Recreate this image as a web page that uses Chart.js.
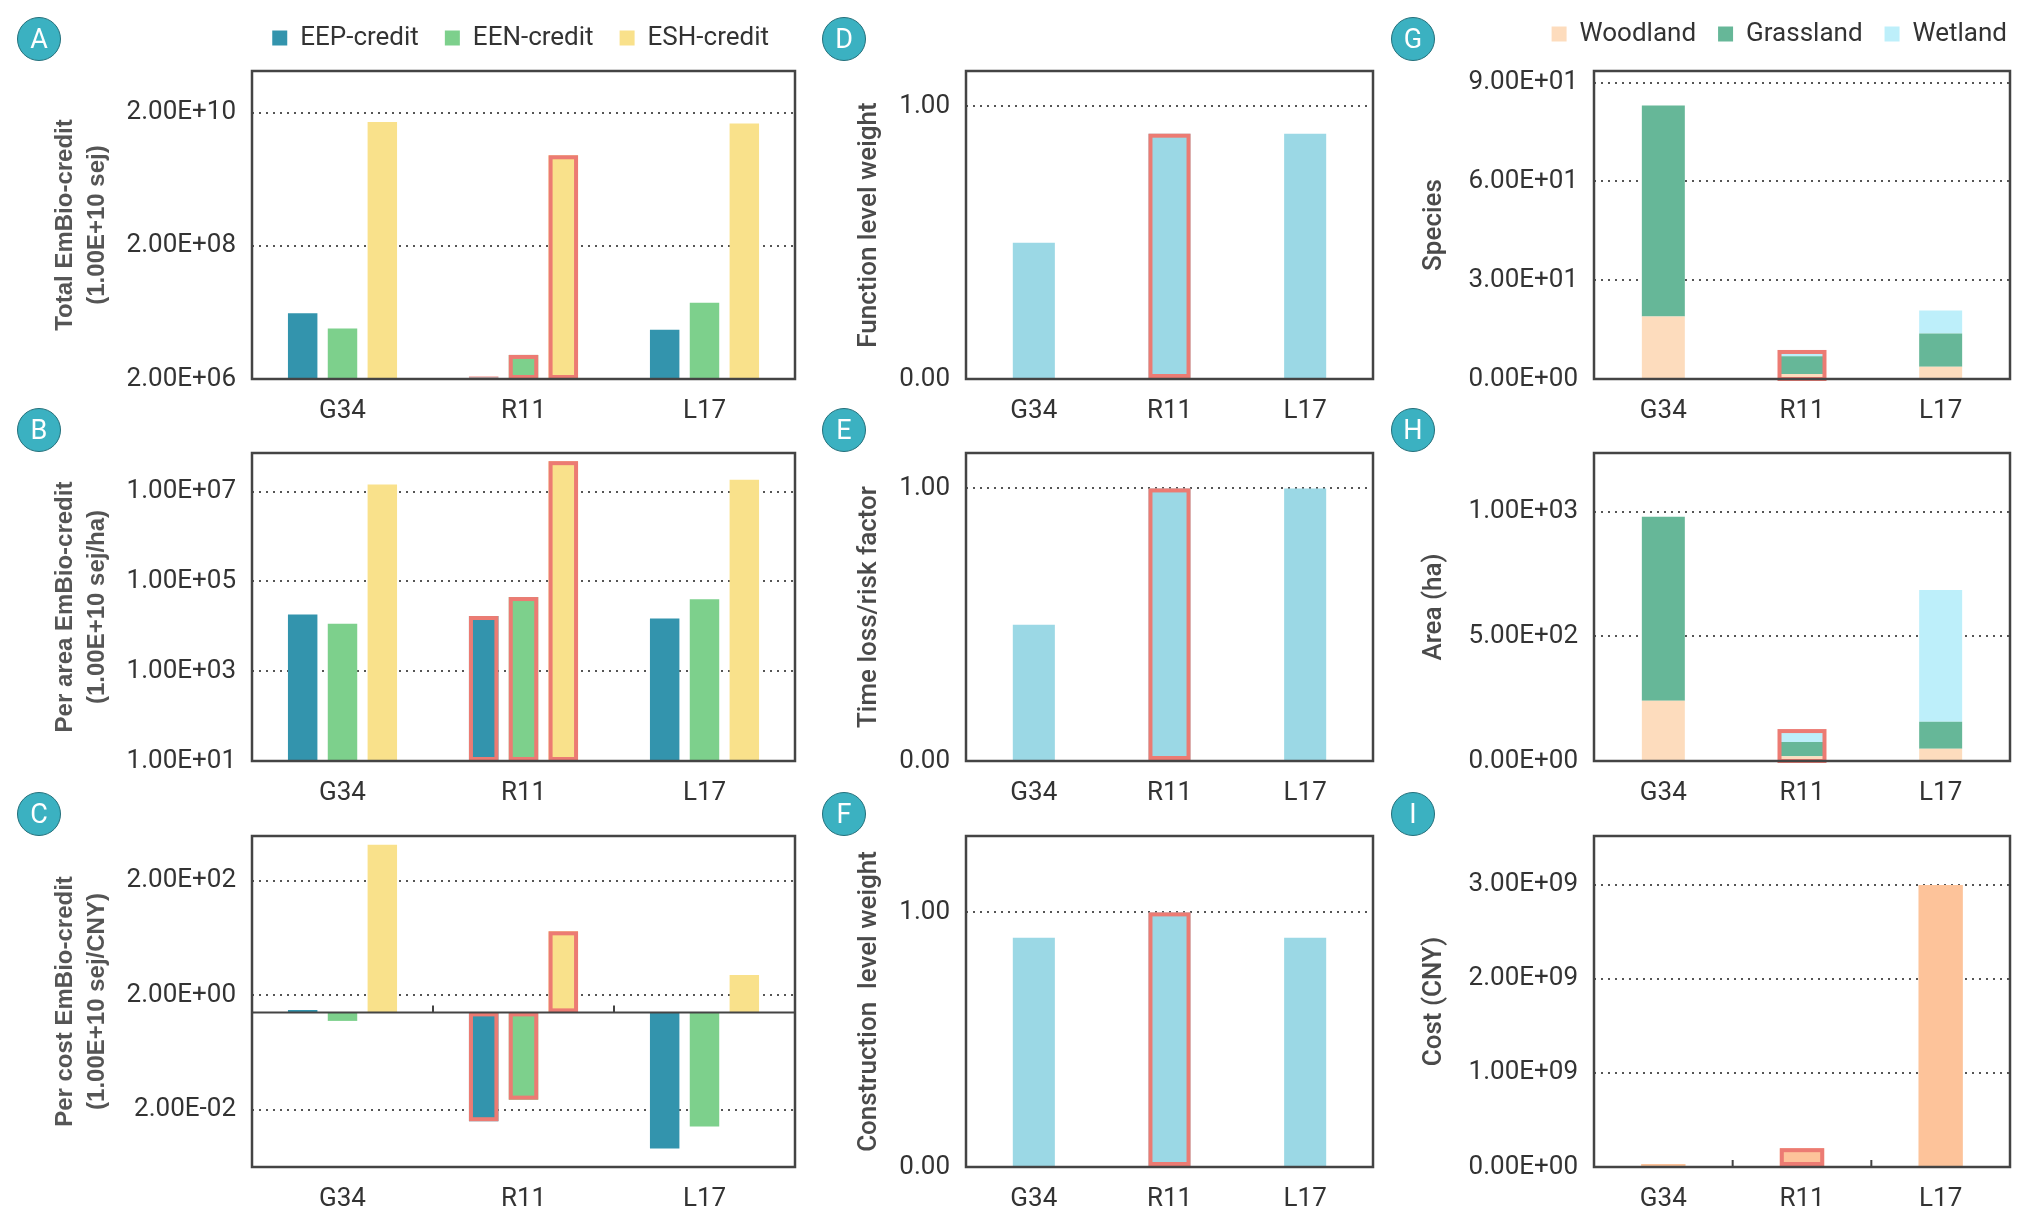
<!DOCTYPE html>
<html>
<head>
<meta charset="utf-8">
<script src="https://cdn.jsdelivr.net/npm/chart.js@4.4.0/dist/chart.umd.min.js"></script>
<style>
  html, body { margin: 0; padding: 0; background: #fff; }
  #page { position: relative; width: 2027px; height: 1220px; overflow: hidden; background: #fff; }
  .cv { position: absolute; }
  .badge {
    position: absolute; width: 42px; height: 42px; border-radius: 50%;
    background: #3bb1c1; border: 1.5px solid #24707b; color: #fff;
    font: 400 27px Roboto, sans-serif; display: flex; align-items: center; justify-content: center;
  }
</style>
</head>
<body>
<div id="page"></div>
<script>
// ---- data ----
const regions = ['G34', 'R11', 'L17'];
const creditNames = ['EEP-credit', 'EEN-credit', 'ESH-credit'];
const landNames = ['Woodland', 'Grassland', 'Wetland'];

// A: total EmBio-credit (1.00E+10 sej), log axis
const totalEEP = [1.95e7, 2.1e6, 1.1e7];
const totalEEN = [1.15e7, 4.6e6, 2.8e7];
const totalESH = [1.45e10, 4.6e9, 1.38e10];
const totalTicks = [2e6, 2e8, 2e10];

// B: per area EmBio-credit (1.00E+10 sej/ha), log axis
const areaEEP = [1.85e4, 1.7e4, 1.5e4];
const areaEEN = [1.15e4, 4.5e4, 4.0e4];
const areaESH = [1.45e7, 4.8e7, 1.85e7];
const areaCreditTicks = [1e1, 1e3, 1e5, 1e7];

// C: per cost EmBio-credit (1.00E+10 sej/CNY), log axis, bars start at 1
const perCostBase = 1;
const costEEP = [1.1, 0.0126, 0.0042];
const costEEN = [0.71, 0.03, 0.0102];
const costESH = [840, 26, 4.5];
const costCreditTicks = [2e-2, 2e0, 2e2];

// D, E, F
const functionWeight = [0.5, 0.9, 0.9];
const timeRiskFactor = [0.5, 1.0, 1.0];
const constructionWeight = [0.9, 1.0, 0.9];
const weightTicks = [0, 1];

// G: species by land type
const speciesWoodland = [19, 1.5, 3.7];
const speciesGrassland = [64, 5.4, 10.1];
const speciesWetland = [0, 1.0, 7.0];
const speciesTicks = [0, 30, 60, 90];

// H: area (ha) by land type
const areaWoodland = [242, 19, 49];
const areaGrassland = [737, 57, 108];
const areaWetland = [0, 40, 529];
const areaTicks = [0, 500, 1000];

// I: cost (CNY)
const projectCost = [3.2e7, 2.0e8, 3.0e9];
const costTicks = [0, 1e9, 2e9, 3e9];

const highlightIndex = 1; // R11

// ---- style ----
const C_EEP = '#3394ad', C_EEN = '#7dd08c', C_ESH = '#f9e18b';
const C_WEIGHT = '#9bd8e5';
const C_WOOD = '#fddcbd', C_GRASS = '#66b798', C_WET = '#bdeffa';
const C_COST = '#fdc39a';
const C_HL = '#ec7b73';

Chart.defaults.font.family = 'Roboto';
Chart.defaults.color = '#333';

const page = document.getElementById('page');

const cols = [
  { left: 49, boxLeft: 252, boxRight: 795, right: 800 },
  { left: 854, boxLeft: 966, boxRight: 1373, right: 1378 },
  { left: 1419, boxLeft: 1594, boxRight: 2010, right: 2027 }
];
const rows = [
  { boxTop: 71, boxBottom: 379 },
  { boxTop: 453, boxBottom: 761 },
  { boxTop: 836, boxBottom: 1167 }
];

function fmtE(v) {
  if (v === 0) return '0.00E+00';
  let e = Math.floor(Math.log10(Math.abs(v)) + 1e-9);
  const m = v / Math.pow(10, e);
  return m.toFixed(2) + 'E' + (e < 0 ? '-' : '+') + String(Math.abs(e)).padStart(2, '0');
}
function fmtF(v) { return Number(v).toFixed(2); }

// frame, highlight outlines and inner ticks
const framePlugin = {
  id: 'frame',
  beforeLayout(chart, args, o) {
    const lg = chart.legend;
    if (o.legendExtra && lg && !lg._patched) {
      const fit = lg.fit, draw = lg.draw;
      lg.fit = function () { fit.call(this); this.height += o.legendExtra; };
      lg.draw = function () {
        const c = this.ctx;
        c.save(); c.translate(o.legendShift || 0, 0);
        draw.call(this);
        c.restore();
      };
      lg._patched = true;
    }
  },
  afterDatasetsDraw(chart, args, o) {
    const { ctx, chartArea: a } = chart;
    const xs = chart.scales.x, ys = chart.scales.y;
    ctx.save();
    // highlight outlines
    if (o.highlight !== undefined) {
      const rects = [];
      chart.data.datasets.forEach((ds, di) => {
        const el = chart.getDatasetMeta(di).data[o.highlight];
        if (!el) return;
        const p = el.getProps(['x', 'y', 'base', 'width'], true);
        rects.push({ l: p.x - p.width / 2, r: p.x + p.width / 2,
                     t: Math.min(p.y, p.base), b: Math.max(p.y, p.base) });
      });
      ctx.strokeStyle = C_HL;
      ctx.lineWidth = 4;
      if (o.stacked) {
        const u = rects.reduce((m, r) => ({ l: Math.min(m.l, r.l), r: Math.max(m.r, r.r),
          t: Math.min(m.t, r.t), b: Math.max(m.b, r.b) }));
        ctx.strokeRect(u.l - 1, u.t - 1, u.r - u.l + 2, u.b - u.t + 2);
      } else {
        rects.forEach(r => {
          const h = r.b - r.t;
          if (h < 4) {
            ctx.save();
            ctx.globalAlpha = 0.45; ctx.lineWidth = 2;
            ctx.beginPath(); ctx.moveTo(r.l, r.b - 2); ctx.lineTo(r.r, r.b - 2); ctx.stroke();
            ctx.restore();
          } else {
            ctx.strokeRect(r.l + 2, r.t + 2, r.r - r.l - 4, h - 4);
          }
        });
      }
    }
    ctx.strokeStyle = '#444';
    // baseline with tick marks between categories
    if (o.baseline !== undefined || o.bottomTicks) {
      const y = o.baseline !== undefined ? ys.getPixelForValue(o.baseline) : a.bottom;
      ctx.lineWidth = 2;
      ctx.beginPath();
      ctx.moveTo(a.left, y); ctx.lineTo(a.right, y);
      for (let i = 0; i < xs.ticks.length - 1; i++) {
        const x = (xs.getPixelForTick(i) + xs.getPixelForTick(i + 1)) / 2;
        ctx.moveTo(x, y); ctx.lineTo(x, y - 7);
      }
      ctx.stroke();
    }
    ctx.lineWidth = 2.5;
    ctx.strokeRect(a.left, a.top, a.right - a.left, a.bottom - a.top);
    ctx.restore();
  }
};

function makePanel(p) {
  const col = cols[p.col], row = rows[p.row];
  const top = p.legend ? -10 : row.boxTop - 50;
  const w = col.right - col.left, h = row.boxBottom + 50 - top;
  const cv = document.createElement('canvas');
  cv.className = 'cv';
  cv.width = w; cv.height = h;
  cv.style.left = col.left + 'px'; cv.style.top = top + 'px';
  cv.style.width = w + 'px'; cv.style.height = h + 'px';
  page.appendChild(cv);

  const padTop = p.legend ? 9 : row.boxTop - top;
  const legendPad = p.legendPad || 26;
  const legendExtra = p.legend ? row.boxTop - top - padTop - (26 + legendPad + 10) : 0;

  const datasets = p.datasets.map(d => Object.assign({
    borderWidth: 0,
    categoryPercentage: p.cp,
    barPercentage: p.bp
  }, d));

  new Chart(cv, {
    type: 'bar',
    data: { labels: regions, datasets: datasets },
    options: {
      responsive: false,
      animation: false,
      events: [],
      layout: { padding: { top: padTop, right: col.right - col.boxRight, left: 0, bottom: 0 } },
      plugins: {
        tooltip: { enabled: false },
        legend: {
          display: !!p.legend,
          position: 'top',
          align: 'end',
          labels: { boxWidth: 15, boxHeight: 15, padding: legendPad, color: '#333', font: { size: 26 } }
        },
        frame: {
          highlight: highlightIndex,
          stacked: !!p.stacked,
          baseline: p.baseline,
          bottomTicks: !!p.bottomTicks,
          legendExtra: legendExtra,
          legendShift: p.legendShift || 0
        }
      },
      scales: {
        x: {
          stacked: !!p.stacked,
          grid: { display: false },
          border: { display: false },
          ticks: { color: '#333', font: { size: 26 }, padding: 9 },
          afterFit: s => { s.height = 50; }
        },
        y: {
          type: p.type || 'linear',
          stacked: !!p.stacked,
          min: p.min,
          max: p.max,
          grid: { color: '#555', lineWidth: 2, drawTicks: false },
          border: { display: false, dash: [2, 5] },
          ticks: { color: '#333', font: { size: 26 }, padding: 16, callback: v => p.fmt(v) },
          afterBuildTicks: s => { s.ticks = p.ticks.map(v => ({ value: v })); },
          afterFit: s => { s.width = col.boxLeft - col.left; },
          title: {
            display: true,
            text: p.title,
            color: p.titleColor || '#4a4a4a',
            padding: 0,
            font: p.titleFont
          }
        }
      }
    },
    plugins: [framePlugin]
  });
}

const fontArial = { family: 'Liberation Sans', weight: 'bold', size: 24, lineHeight: 1.35 };
const fontRoboto = { family: 'Roboto', weight: '500', size: 26, lineHeight: 1.2 };
const bar3 = { cp: 0.66, bp: 0.74 };
const bar1 = { cp: 1, bp: 0.31 };

// A
makePanel(Object.assign({
  col: 0, row: 0, legend: true, type: 'logarithmic', min: 2e6, max: 8.5e10,
  ticks: totalTicks, fmt: fmtE, titleFont: fontArial, titleColor: '#555',
  title: ['Total EmBio-credit', '(1.00E+10 sej)'],
  datasets: [
    { label: creditNames[0], data: totalEEP, backgroundColor: C_EEP },
    { label: creditNames[1], data: totalEEN, backgroundColor: C_EEN },
    { label: creditNames[2], data: totalESH, backgroundColor: C_ESH }
  ]
}, bar3));

// B
makePanel(Object.assign({
  col: 0, row: 1, type: 'logarithmic', min: 10, max: 7.3e7,
  ticks: areaCreditTicks, fmt: fmtE, titleFont: fontArial, titleColor: '#555',
  title: ['Per area EmBio-credit', '(1.00E+10 sej/ha)'],
  datasets: [
    { label: creditNames[0], data: areaEEP, backgroundColor: C_EEP },
    { label: creditNames[1], data: areaEEN, backgroundColor: C_EEN },
    { label: creditNames[2], data: areaESH, backgroundColor: C_ESH }
  ]
}, bar3));

// C
makePanel(Object.assign({
  col: 0, row: 2, type: 'logarithmic', min: 2e-3, max: 1.2e3, baseline: perCostBase,
  ticks: costCreditTicks, fmt: fmtE, titleFont: fontArial, titleColor: '#555',
  title: ['Per cost EmBio-credit', '(1.00E+10 sej/CNY)'],
  datasets: [
    { label: creditNames[0], data: costEEP.map(v => [perCostBase, v]), backgroundColor: C_EEP },
    { label: creditNames[1], data: costEEN.map(v => [perCostBase, v]), backgroundColor: C_EEN },
    { label: creditNames[2], data: costESH.map(v => [perCostBase, v]), backgroundColor: C_ESH }
  ]
}, bar3));

// D
makePanel(Object.assign({
  col: 1, row: 0, min: 0, max: 1.13, ticks: weightTicks, fmt: fmtF, titleFont: fontRoboto,
  title: 'Function level weight',
  datasets: [{ label: 'Function level weight', data: functionWeight, backgroundColor: C_WEIGHT }]
}, bar1));

// E
makePanel(Object.assign({
  col: 1, row: 1, min: 0, max: 1.13, ticks: weightTicks, fmt: fmtF, titleFont: fontRoboto,
  title: 'Time loss/risk factor',
  datasets: [{ label: 'Time loss/risk factor', data: timeRiskFactor, backgroundColor: C_WEIGHT }]
}, bar1));

// F
makePanel(Object.assign({
  col: 1, row: 2, min: 0, max: 1.3, ticks: weightTicks, fmt: fmtF, titleFont: fontRoboto,
  title: 'Construction  level weight',
  datasets: [{ label: 'Construction level weight', data: constructionWeight, backgroundColor: C_WEIGHT }]
}, bar1));

// G
makePanel(Object.assign({
  col: 2, row: 0, legend: true, legendPad: 22, legendShift: 19, stacked: true, min: 0, max: 93.5,
  ticks: speciesTicks, fmt: fmtE, titleFont: fontRoboto, title: 'Species',
  datasets: [
    { label: landNames[0], data: speciesWoodland, backgroundColor: C_WOOD },
    { label: landNames[1], data: speciesGrassland, backgroundColor: C_GRASS },
    { label: landNames[2], data: speciesWetland, backgroundColor: C_WET }
  ]
}, bar1));

// H
makePanel(Object.assign({
  col: 2, row: 1, stacked: true, min: 0, max: 1235,
  ticks: areaTicks, fmt: fmtE, titleFont: fontRoboto, title: 'Area (ha)',
  datasets: [
    { label: landNames[0], data: areaWoodland, backgroundColor: C_WOOD },
    { label: landNames[1], data: areaGrassland, backgroundColor: C_GRASS },
    { label: landNames[2], data: areaWetland, backgroundColor: C_WET }
  ]
}, bar1));

// I
makePanel(Object.assign({
  col: 2, row: 2, min: 0, max: 3.52e9, bottomTicks: true,
  ticks: costTicks, fmt: fmtE, titleFont: fontRoboto, title: 'Cost (CNY)',
  datasets: [{ label: 'Cost (CNY)', data: projectCost, backgroundColor: C_COST }]
}, { cp: 1, bp: 0.32 }));

// panel letters
[['A', 39, 39], ['B', 39, 430], ['C', 39, 814],
 ['D', 844, 39], ['E', 844, 430], ['F', 844, 814],
 ['G', 1413, 39], ['H', 1413, 430], ['I', 1413, 814]].forEach(([t, cx, cy]) => {
  const d = document.createElement('div');
  d.className = 'badge';
  d.textContent = t;
  d.style.left = (cx - 22) + 'px';
  d.style.top = (cy - 22) + 'px';
  page.appendChild(d);
});
</script>
</body>
</html>
